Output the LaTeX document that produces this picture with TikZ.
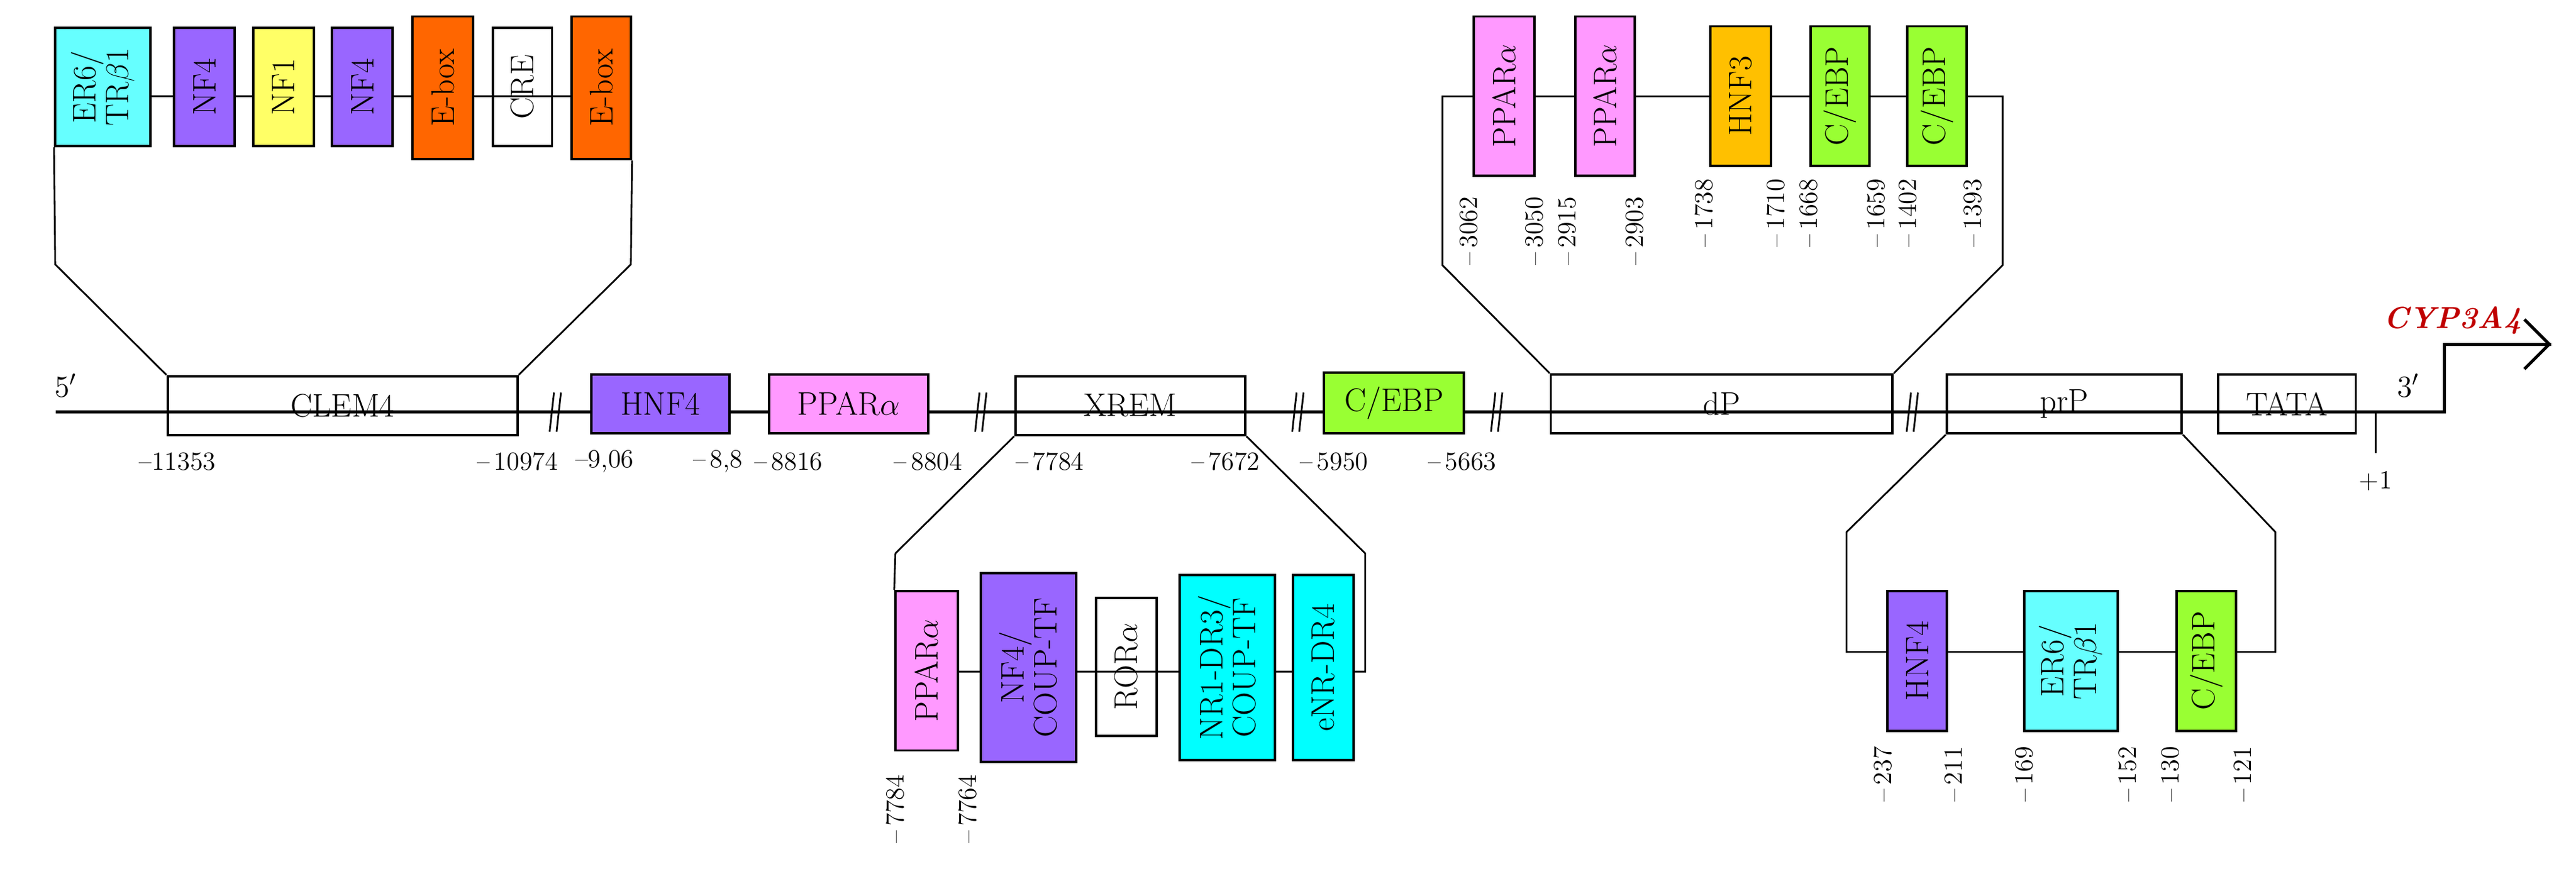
\documentclass[tikz,border=0pt]{standalone}
\usetikzlibrary{arrows.meta,
                backgrounds,
                fit
                }
\definecolor{tfcyan}{HTML}{66FFFF}
\definecolor{tfaqua}{HTML}{00FFFF}
\definecolor{tfviolet}{HTML}{9966FF}
\definecolor{tfyellow}{HTML}{FFFF66}
\definecolor{tforange}{HTML}{FF6600}
\definecolor{tfpink}{HTML}{FF99FF}
\definecolor{tfgreen}{HTML}{99FF33}
\definecolor{tfgold}{HTML}{FFC000}
\definecolor{genered}{HTML}{C00000}

\begin{document}
\begin{tikzpicture}[
        x = 0.02653cm, y = -0.02653cm,
        box/.style = {draw, line width=1.1pt, inner sep=0pt},
        vt/.style = {label={[rotate=90, align=center, inner sep=0pt,
                      font=\fontsize{15}{15}\selectfont]center:#1}},
        ht/.style = {label={[inner sep=0pt,
                      font=\fontsize{15}{17}\selectfont]center:#1}},
        dna/.style = {line width=1.4pt},
        lnk/.style = {line width=0.8pt},
        num/.style = {font=\fontsize{12}{14}\selectfont, inner sep=1pt},
        vnum/.style = {num, rotate=90, anchor=west}
    ]
    \useasboundingbox (0,0) rectangle (1568,529);
    % main sequence
    \coordinate (s5)  at (34,251);
    \coordinate (tss) at (1488,251);
    \coordinate (arw) at (1553,209.6);
    \node[box, ht=CLEM4, fit={(102,229) (315,265)}] (clem) {};
    \node[box, ht=HNF4, fill=tfviolet, fit={(360,228) (444,264)}] (hnf) {};
    \node[box, ht=PPAR$\alpha$, fill=tfpink, fit={(468,228) (565,264)}] (ppar) {};
    \node[box, ht=XREM, fit={(618,229) (758,265)}] (xrem) {};
    \node[box, ht=C/EBP, fill=tfgreen, fit={(806,227) (891,264)}] (cebp) {};
    \node[box, ht=dP, fit={(944,228) (1152,264)}] (dp) {};
    \node[box, ht=prP, fit={(1185,228) (1328,264)}] (prp) {};
    \node[box, ht=TATA, fit={(1350,228) (1434,264)}] (tata) {};
    \foreach \n/\x in {b1/338, b2/597, b3/790, b4/911, b5/1164}
        \coordinate (\n) at (\x,251);
    \foreach \n in {b1,b2,b3,b4,b5} {
        \draw[lnk] ([xshift=-2.6pt,yshift=-9pt]\n) -- ([xshift=-0.6pt,yshift=9pt]\n);
        \draw[lnk] ([xshift=0.6pt,yshift=-9pt]\n) -- ([xshift=2.6pt,yshift=9pt]\n);
    }
    \node[num, font=\fontsize{14}{15}\selectfont] (p5) at (40,235) {5$'$};
    \node[num, font=\fontsize{14}{15}\selectfont] (p3) at (1466,235) {3$'$};
    \node[num, text=genered, font=\fontsize{14}{15}\selectfont\bfseries\itshape]
        (gene) at (1493,195) {CYP3A4};
    \coordinate (tick) at (1446,276);
    \draw[lnk] (tss -| tick) -- (tick);
    \node[num] at (1446,293) {+1};
    \foreach \x/\t in {108/{--11353}, 315/{--\,10974}, 368/{--9,06}, 437/{--\,8,8},
                       480/{--\,8816}, 565/{--\,8804}, 639/{--\,7784}, 746/{--\,7672},
                       812/{--\,5950}, 890/{--\,5663}}
        \node[num] at (\x,281) {\t};
    % CLEM4 sites
    \node[box, vt={ER6/\\TR$\beta$1}, fill=tfcyan, fit={(33.6,17) (91.5,89)}] (er6) {};
    \node[box, vt=NF4, fill=tfviolet, fit={(106,17) (143,89)}] (nf4a) {};
    \node[box, vt=NF1, fill=tfyellow, fit={(154,17) (191,89)}] (nf1) {};
    \node[box, vt=NF4, fill=tfviolet, fit={(202,17) (239,89)}] (nf4b) {};
    \node[box, vt=E-box, fill=tforange, fit={(251,10) (288,97)}] (eboxa) {};
    \node[box, vt=CRE, fit={(300,17) (336,89)}] (cre) {};
    \node[box, vt=E-box, fill=tforange, fit={(348,10) (384,97)}] (eboxb) {};
    % dP sites
    \node[box, vt=PPAR$\alpha$, fill=tfpink, fit={(897,10) (934,107)}] (dpa) {};
    \node[box, vt=PPAR$\alpha$, fill=tfpink, fit={(959,10) (995,107)}] (dpb) {};
    \node[box, vt=HNF3, fill=tfgold, fit={(1041,16) (1078,101)}] (hnf3) {};
    \node[box, vt=C/EBP, fill=tfgreen, fit={(1102,16) (1138,101)}] (dcea) {};
    \node[box, vt=C/EBP, fill=tfgreen, fit={(1161,16) (1197,101)}] (dceb) {};
    % XREM sites
    \node[box, vt=PPAR$\alpha$, fill=tfpink, fit={(545,360) (583,457)}] (xpa) {};
    \node[box, vt={NF4/\\COUP-TF}, fill=tfviolet, fit={(597,349) (655,464)}] (xnf) {};
    \node[box, vt=ROR$\alpha$, fit={(667,364) (704,448)}] (xror) {};
    \node[box, vt={NR1-DR3/\\COUP-TF}, fill=tfaqua, fit={(718,350) (776,463)}] (xnr) {};
    \node[box, vt=eNR-DR4, fill=tfaqua, fit={(787,350) (824,463)}] (xenr) {};
    % prP sites
    \node[box, vt=HNF4, fill=tfviolet, fit={(1149,360) (1185,445)}] (phnf) {};
    \node[box, vt={ER6/\\TR$\beta$1}, fill=tfcyan, fit={(1232,360) (1289,445)}] (per6) {};
    \node[box, vt=C/EBP, fill=tfgreen, fit={(1325,360) (1361,445)}] (pceb) {};
    % rotated positions
    \foreach \x/\y/\t in {894/163/--\,3062, 934/163/--\,3050, 954/163/--\,2915,
                          995/163/--\,2903, 1037/152/--\,1738, 1081/152/--\,1710,
                          1101/152/--\,1668, 1142/152/--\,1659, 1161/152/--\,1402,
                          1201/152/--\,1393, 545/515/--\,7784, 589/515/--\,7764,
                          1146/490/--\,237, 1189/490/--\,211, 1232/490/--\,169,
                          1295/490/--\,152, 1321/490/--\,130, 1365/490/--\,121}
        \node[vnum] at (\x,\y) {\t};
    \begin{scope}[on background layer]
        \draw[dna] (s5) -- (tss) |- (arw);
        \draw[dna, -{Straight Barb[length=4mm,width=8mm]}] (tss |- arw) -- (arw);
        \draw[lnk] (er6.east |- 0,58.7) -- (eboxb.west |- 0,58.7);
        \draw[lnk] (clem.north west) -- (33.6,161) -- (er6.south west);
        \draw[lnk] (clem.north east) -- (384,161) -- (eboxb.south east);
        \draw[lnk] (dp.north west) -- (878,161.5) -- (878,58.7) -- (1219,58.7)
            -- (1219,161.5) -- (dp.north east);
        \draw[lnk] (xrem.south west) -- (545,337) -- (xpa.north west);
        \draw[lnk] (xpa.east |- 0,409) -- (831,409) -- (831,337) -- (xrem.south east);
        \draw[lnk] (prp.south west) -- (1124,324) -- (1124,397) -- (1385,397)
            -- (1385,324) -- (prp.south east);
    \end{scope}
\end{tikzpicture}
\end{document}
